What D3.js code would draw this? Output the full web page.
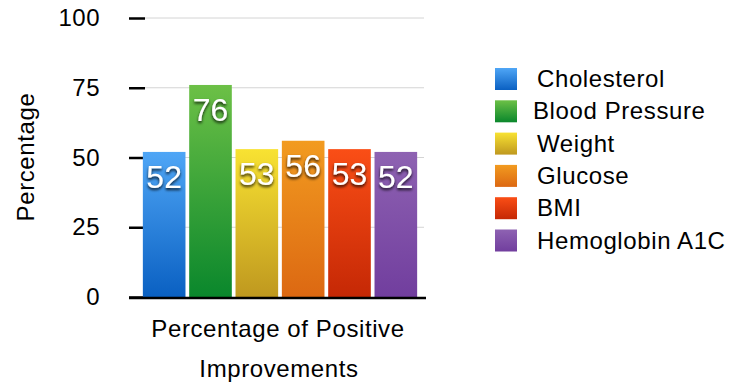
<!DOCTYPE html>
<html>
<head>
<meta charset="utf-8">
<script src="https://cdn.jsdelivr.net/npm/d3@7"></script>
<style>
  body { margin: 0; background: #fff; }
  svg text { font-family: "Liberation Sans", Arial, Helvetica, sans-serif; }
</style>
</head>
<body>
<div id="chart"></div>
<script>
// Data
const categories = ["Cholesterol", "Blood Pressure", "Weight", "Glucose", "BMI", "Hemoglobin A1C"];
const values = [52, 76, 53, 56, 53, 52];
const yTicks = [0, 25, 50, 75, 100];
const colorTop = ["#4fa6f6", "#6cc046", "#f8e232", "#f29b20", "#fa4e16", "#8e62b2"];
const colorBottom = ["#0a60c2", "#0a872c", "#bf981f", "#dc6812", "#c52805", "#713e9e"];

const width = 752, height = 383;
const margin = { top: 18, bottom: 86 };

const svg = d3.select("#chart").append("svg")
  .attr("width", width)
  .attr("height", height);

// gradients for bars
const defs = svg.append("defs");
categories.forEach((c, i) => {
  const g = defs.append("linearGradient")
    .attr("id", "grad" + i)
    .attr("x1", 0).attr("y1", 0).attr("x2", 0).attr("y2", 1);
  g.append("stop").attr("offset", "0%").attr("stop-color", colorTop[i]);
  g.append("stop").attr("offset", "100%").attr("stop-color", colorBottom[i]);
});
const shadow = defs.append("filter").attr("id", "shadow")
  .attr("x", "-20%").attr("y", "-20%").attr("width", "140%").attr("height", "150%");
shadow.append("feDropShadow")
  .attr("dx", 0).attr("dy", 2).attr("stdDeviation", 1.5)
  .attr("flood-color", "#000").attr("flood-opacity", 0.85);

const x = d3.scaleBand()
  .domain(categories)
  .range([141, 419])
  .paddingInner(0.08)
  .paddingOuter(0.04);

const y = d3.scaleLinear()
  .domain([0, 100])
  .range([height - margin.bottom, margin.top]);

// grid lines
svg.append("g")
  .selectAll("line")
  .data(yTicks.filter(d => d > 0))
  .enter().append("line")
  .attr("x1", 145).attr("x2", 424)
  .attr("y1", d => y(d)).attr("y2", d => y(d))
  .attr("stroke", "#d4d4d4").attr("stroke-width", 1);

// y axis
const yAxis = svg.append("g")
  .attr("transform", "translate(145,0)")
  .call(d3.axisLeft(y).tickValues(yTicks).tickSize(16).tickPadding(29));
yAxis.select(".domain").remove();
yAxis.selectAll(".tick line").attr("stroke", "#000").attr("stroke-width", 2.5);
yAxis.selectAll(".tick text")
  .attr("font-family", null)
  .style("font-size", "24px")
  .style("letter-spacing", "0.5px")
  .attr("fill", "#000");

// bars
svg.append("g").selectAll("rect")
  .data(values)
  .enter().append("rect")
  .attr("x", (d, i) => x(categories[i]))
  .attr("y", d => y(d))
  .attr("width", x.bandwidth())
  .attr("height", d => y(0) - y(d))
  .attr("fill", (d, i) => `url(#grad${i})`);

// baseline
svg.append("line")
  .attr("x1", 129).attr("x2", 426)
  .attr("y1", y(0) + 1).attr("y2", y(0) + 1)
  .attr("stroke", "#000").attr("stroke-width", 2.5);

// value labels
svg.append("g").selectAll("text")
  .data(values)
  .enter().append("text")
  .attr("x", (d, i) => x(categories[i]) + x.bandwidth() / 2)
  .attr("y", d => y(d) + 36)
  .attr("text-anchor", "middle")
  .attr("fill", "#fff")
  .attr("filter", "url(#shadow)")
  .style("font-size", "32px")
  .text(d => d);

// y title
svg.append("text")
  .attr("transform", "translate(34,157) rotate(-90)")
  .attr("text-anchor", "middle")
  .style("font-size", "24px")
  .style("letter-spacing", "0.6px")
  .text("Percentage");

// x title
svg.append("text")
  .attr("x", 278).attr("y", 337)
  .attr("text-anchor", "middle")
  .style("font-size", "24px")
  .style("letter-spacing", "0.6px")
  .text("Percentage of Positive");
svg.append("text")
  .attr("x", 279).attr("y", 377)
  .attr("text-anchor", "middle")
  .style("font-size", "24px")
  .style("letter-spacing", "0.6px")
  .text("Improvements");

// legend
const legend = svg.append("g").attr("transform", "translate(495,68)");
const rows = legend.selectAll("g")
  .data(categories)
  .enter().append("g")
  .attr("transform", (d, i) => `translate(0,${i * 32.3})`);
rows.append("rect")
  .attr("width", 22).attr("height", 22)
  .attr("fill", (d, i) => `url(#grad${i})`);
rows.append("text")
  .attr("x", (d, i) => i === 1 ? 38 : 42)
  .attr("y", 19)
  .style("font-size", "24px")
  .style("letter-spacing", "0.6px")
  .attr("fill", "#000")
  .text(d => d);
</script>
</body>
</html>
